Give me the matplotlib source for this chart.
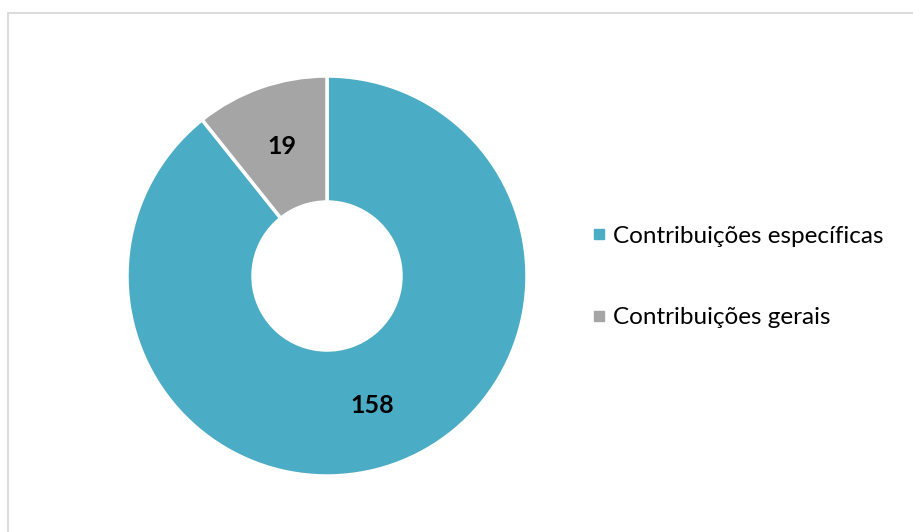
import matplotlib
matplotlib.use("Agg")
import matplotlib.pyplot as plt
from matplotlib.patches import Rectangle
from matplotlib.lines import Line2D
import numpy as np

labels = ["Contribuições específicas", "Contribuições gerais"]
values = [158, 19]
colors = ["#4BACC6", "#A5A5A5"]

plt.rcParams["font.family"] = ["Lato", "DejaVu Sans"]

W, H = 913, 532
fig = plt.figure(figsize=(W / 100, H / 100), dpi=100)

# light chart-area border (left and top visible; the rest is cropped)
fig.patches.append(Rectangle((8 / W, -0.1), 1.2, 1.1 - 13 / H, transform=fig.transFigure,
                             fill=False, edgecolor="#D9D9D9", linewidth=1.3))

cx, cy, half = 327, 276, 210
ax = fig.add_axes([(cx - half) / W, (H - cy - half) / H, 2 * half / W, 2 * half / H])
wedges, _ = ax.pie(values, colors=colors, startangle=90, counterclock=False, radius=1,
                   wedgeprops=dict(width=0.63, edgecolor="white", linewidth=2.5))
ax.set_xlim(-1.05, 1.05)
ax.set_ylim(-1.05, 1.05)
ax.set_aspect("equal")
ax.axis("off")

start = 90.0
total = sum(values)
for v in values:
    span = 360.0 * v / total
    mid = np.deg2rad(start - span / 2)
    ax.text(0.685 * np.cos(mid), 0.685 * np.sin(mid), str(v), ha="center", va="center",
            fontsize=18, fontweight="bold", color="black")
    start -= span

handles = [Line2D([], [], marker="s", linestyle="", markersize=7, color=c, label=l)
           for l, c in zip(labels, colors)]
fig.legend(handles=handles, loc="center left", bbox_to_anchor=(590 / W, 1 - 277 / H),
           frameon=False, fontsize=17.5, handletextpad=0.25, labelspacing=2.5,
           handlelength=0.7, borderpad=0, borderaxespad=0)

fig.savefig("out.png", dpi=100)
